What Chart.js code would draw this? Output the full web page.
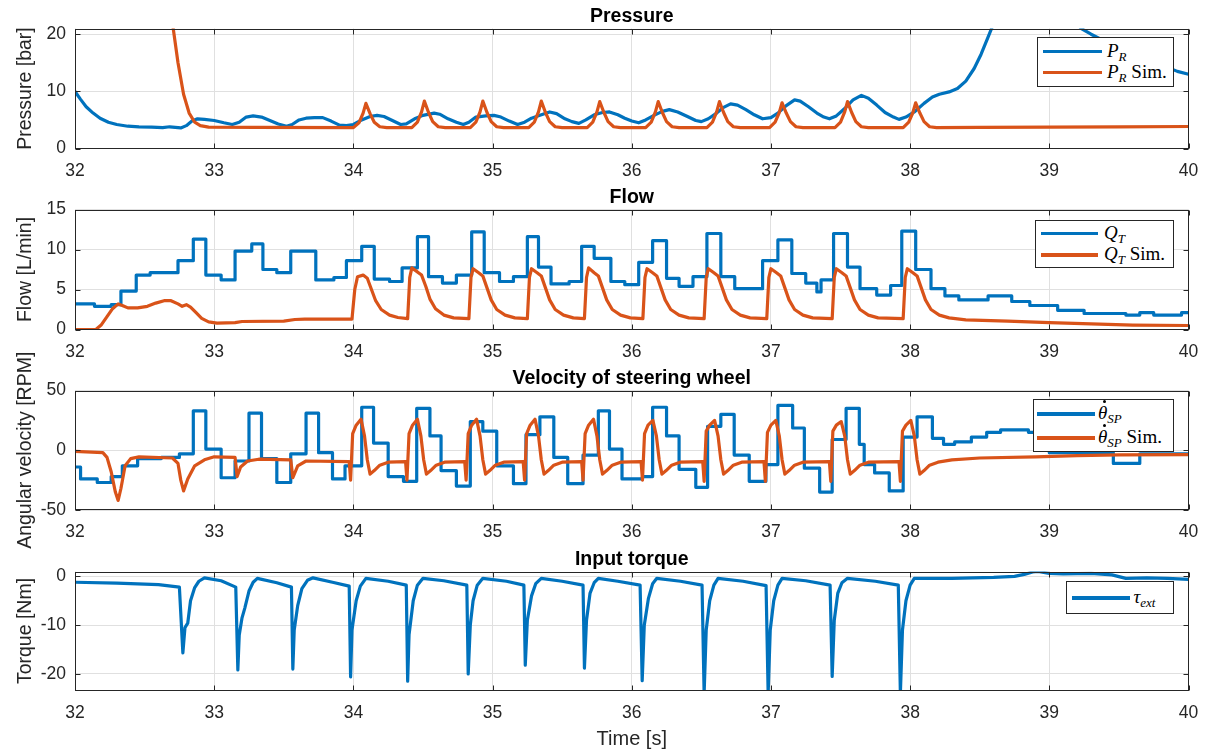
<!DOCTYPE html>
<html><head><meta charset="utf-8">
<script src="https://cdn.jsdelivr.net/npm/chart.js@4.4.1/dist/chart.umd.min.js"></script>
<style>
html,body{margin:0;padding:0;background:#fff;}
#wrap{position:relative;width:1217px;height:756px;overflow:hidden;background:#fff;}
canvas{position:absolute;left:0;top:0;}
.leg{position:absolute;background:#fff;border:1px solid #262626;box-sizing:border-box;z-index:10;}
.ln{position:absolute;height:3.5px;z-index:11;}
.lt{position:absolute;font-family:"Liberation Serif","DejaVu Serif",serif;font-size:19px;line-height:20px;white-space:nowrap;color:#000;z-index:11;}
.lt i{font-style:italic}
.lt sub{font-size:13px;vertical-align:-4px;font-style:italic;line-height:0}
.dt{position:relative;font-style:italic;display:inline-block;line-height:20px}
.dt b{position:absolute;left:5px;top:-3px;width:3px;height:3px;border-radius:50%;background:#000}
</style></head>
<body><div id="wrap">
<canvas id="c1" width="1217" height="756"></canvas>
<canvas id="c2" width="1217" height="756"></canvas>
<canvas id="c3" width="1217" height="756"></canvas>
<canvas id="c4" width="1217" height="756"></canvas>
</div>
<script>
// ---------- tick labels ----------
const timeTicks = [32,33,34,35,36,37,38,39,40];
const pressureTicks = [0,10,20];
const flowTicks = [0,5,10,15];
const velocityTicks = [-50,0,50];
const torqueTicks = [-20,-10,0];

// ---------- series: [time (s), value] ----------
const pressureMeasured = [[32.00,10.0],[32.04,8.6],[32.08,7.3],[32.13,6.2],[32.18,5.3],[32.24,4.6],[32.30,4.2],[32.38,3.9],[32.46,3.8],[32.55,3.75],[32.63,3.65],[32.68,3.8],[32.72,3.7],[32.76,3.6],[32.80,4.0],[32.84,4.8],[32.88,5.2],[32.93,5.1],[33.00,4.9],[33.07,4.5],[33.13,4.2],[33.18,4.6],[33.23,5.5],[33.28,5.7],[33.34,5.5],[33.40,4.9],[33.46,4.3],[33.52,3.9],[33.56,4.2],[33.61,5.0],[33.66,5.3],[33.72,5.4],[33.78,5.4],[33.84,4.8],[33.90,4.1],[33.95,4.0],[34.00,4.2],[34.06,5.0],[34.12,5.6],[34.17,5.8],[34.22,5.6],[34.28,4.9],[34.34,4.2],[34.38,4.3],[34.44,5.2],[34.50,5.8],[34.58,6.2],[34.62,6.0],[34.68,5.2],[34.74,4.6],[34.79,4.2],[34.83,4.6],[34.88,5.5],[34.95,5.7],[35.01,5.8],[35.06,5.5],[35.12,4.8],[35.18,4.2],[35.23,4.6],[35.28,5.3],[35.34,5.8],[35.41,6.4],[35.46,6.1],[35.52,5.2],[35.57,4.7],[35.62,4.4],[35.67,5.0],[35.73,5.9],[35.79,6.3],[35.84,6.4],[35.90,5.9],[35.95,5.3],[36.00,4.8],[36.05,4.5],[36.10,5.0],[36.16,5.8],[36.22,6.5],[36.27,6.8],[36.33,6.4],[36.40,5.6],[36.46,4.9],[36.50,4.7],[36.55,5.2],[36.61,6.2],[36.66,7.2],[36.71,7.8],[36.76,7.6],[36.82,6.8],[36.88,5.9],[36.94,5.2],[37.00,5.4],[37.05,6.2],[37.11,7.5],[37.17,8.5],[37.21,8.3],[37.27,7.3],[37.33,6.2],[37.38,5.5],[37.42,5.2],[37.47,5.7],[37.53,7.0],[37.59,8.5],[37.65,9.3],[37.70,8.8],[37.76,7.6],[37.82,6.3],[37.88,5.5],[37.92,5.1],[37.97,5.5],[38.03,6.4],[38.10,7.9],[38.16,9.0],[38.21,9.5],[38.28,9.9],[38.34,10.5],[38.40,11.8],[38.46,14.0],[38.51,16.5],[38.56,19.5],[38.61,22.5],[38.70,26.0],[38.85,28.0],[39.00,27.0],[39.15,23.0],[39.23,21.0],[39.30,20.0],[39.38,19.0],[39.45,18.0],[39.52,17.2],[39.62,16.2],[39.72,15.4],[39.82,14.5],[39.92,13.5],[40.00,13.0]];
const pressureSim = [[32.60,40],[32.70,22],[32.74,15],[32.78,9.5],[32.82,6.2],[32.86,4.6],[32.90,4.0],[32.96,3.75],[33.30,3.7],[34.00,3.65],[34.04,4.5],[34.07,6.2],[34.09,7.9],[34.12,6.1],[34.15,4.6],[34.19,3.8],[34.24,3.65],[34.42,3.65],[34.46,4.6],[34.49,6.4],[34.51,8.3],[34.54,6.3],[34.57,4.7],[34.61,3.8],[34.66,3.65],[34.84,3.65],[34.88,4.6],[34.91,6.4],[34.93,8.3],[34.96,6.3],[34.99,4.7],[35.03,3.8],[35.08,3.65],[35.26,3.65],[35.30,4.6],[35.33,6.4],[35.35,8.3],[35.38,6.3],[35.41,4.7],[35.45,3.8],[35.50,3.65],[35.68,3.65],[35.72,4.6],[35.75,6.4],[35.77,8.2],[35.80,6.3],[35.83,4.7],[35.87,3.8],[35.92,3.65],[36.10,3.65],[36.14,4.6],[36.17,6.4],[36.19,8.2],[36.22,6.3],[36.25,4.7],[36.29,3.8],[36.34,3.65],[36.54,3.65],[36.58,4.6],[36.61,6.4],[36.63,8.2],[36.66,6.3],[36.69,4.7],[36.73,3.8],[36.78,3.65],[36.99,3.65],[37.03,4.6],[37.06,6.3],[37.08,8.0],[37.11,6.2],[37.14,4.7],[37.18,3.8],[37.23,3.65],[37.46,3.65],[37.50,4.6],[37.53,6.4],[37.55,8.2],[37.58,6.3],[37.61,4.7],[37.65,3.8],[37.70,3.65],[37.95,3.65],[37.99,4.6],[38.02,6.3],[38.04,8.0],[38.07,6.2],[38.10,4.7],[38.14,3.8],[38.19,3.65],[38.50,3.7],[39.00,3.75],[39.50,3.8],[40.00,3.85]];

const flowMeasured = [[32.00,3.2],[32.14,2.9],[32.26,3.1],[32.33,4.8],[32.44,6.8],[32.54,7.1],[32.74,8.6],[32.85,11.3],[32.94,6.8],[33.05,6.2],[33.15,9.8],[33.27,10.7],[33.35,7.5],[33.45,7.1],[33.55,9.8],[33.73,6.2],[33.86,6.5],[33.95,8.6],[34.06,10.4],[34.15,6.3],[34.26,6.0],[34.35,7.7],[34.46,11.6],[34.54,6.6],[34.64,5.8],[34.74,6.8],[34.85,12.2],[34.94,7.1],[35.05,6.0],[35.15,6.6],[35.25,11.6],[35.33,7.8],[35.42,5.7],[35.55,6.0],[35.64,10.4],[35.73,8.9],[35.85,6.0],[35.95,5.6],[36.05,8.4],[36.15,11.1],[36.25,6.4],[36.34,5.4],[36.44,6.6],[36.54,12.0],[36.64,6.6],[36.74,5.1],[36.94,8.6],[37.05,11.2],[37.15,7.0],[37.25,5.8],[37.33,4.7],[37.36,6.2],[37.45,12.0],[37.55,7.8],[37.64,5.1],[37.76,4.3],[37.86,5.5],[37.94,12.3],[38.04,7.5],[38.15,5.1],[38.25,4.2],[38.35,3.7],[38.56,4.2],[38.73,3.5],[38.86,3.0],[39.06,2.4],[39.25,2.0],[39.55,1.8],[39.65,2.1],[39.75,1.8],[39.95,2.1],[40.00,2.1]];
const flowSim = [[32.00,0],[32.15,0],[32.19,0.6],[32.23,1.6],[32.27,2.6],[32.31,3.2],[32.34,3.0],[32.38,2.7],[32.45,2.7],[32.52,2.9],[32.58,3.3],[32.64,3.6],[32.69,3.6],[32.74,3.2],[32.77,2.9],[32.80,3.1],[32.83,2.8],[32.87,2.1],[32.91,1.4],[32.96,0.95],[33.02,0.8],[33.15,0.85],[33.20,1.0],[33.50,1.05],[33.58,1.25],[33.65,1.3],[33.99,1.3],[34.01,5.0],[34.03,6.6],[34.07,6.8],[34.10,6.4],[34.13,5.0],[34.16,3.6],[34.20,2.5],[34.26,1.8],[34.32,1.5],[34.39,1.35],[34.405,6.5],[34.42,7.7],[34.46,7.2],[34.49,6.8],[34.52,5.4],[34.55,3.8],[34.59,2.6],[34.65,1.8],[34.72,1.45],[34.83,1.35],[34.845,6.5],[34.86,7.6],[34.90,7.1],[34.93,6.7],[34.96,5.2],[34.99,3.7],[35.03,2.5],[35.09,1.8],[35.16,1.45],[35.25,1.35],[35.265,6.5],[35.28,7.6],[35.32,7.1],[35.35,6.7],[35.38,5.2],[35.41,3.7],[35.45,2.5],[35.51,1.8],[35.58,1.45],[35.66,1.35],[35.675,6.5],[35.69,7.7],[35.73,7.1],[35.76,6.7],[35.79,5.2],[35.82,3.7],[35.86,2.5],[35.92,1.8],[35.99,1.45],[36.08,1.35],[36.095,6.5],[36.11,7.6],[36.15,7.1],[36.18,6.7],[36.21,5.2],[36.24,3.7],[36.28,2.5],[36.34,1.8],[36.41,1.45],[36.52,1.35],[36.535,6.5],[36.55,7.6],[36.59,7.1],[36.62,6.7],[36.65,5.2],[36.68,3.7],[36.72,2.5],[36.78,1.8],[36.85,1.45],[36.97,1.35],[36.985,6.5],[37.00,7.6],[37.04,7.1],[37.07,6.7],[37.10,5.2],[37.13,3.7],[37.17,2.5],[37.23,1.8],[37.30,1.45],[37.44,1.35],[37.455,6.5],[37.47,7.6],[37.51,7.1],[37.54,6.7],[37.57,5.2],[37.60,3.7],[37.64,2.5],[37.70,1.8],[37.77,1.45],[37.95,1.35],[37.965,6.5],[37.98,7.6],[38.02,7.1],[38.05,6.7],[38.08,5.2],[38.11,3.7],[38.15,2.5],[38.21,1.8],[38.28,1.45],[38.40,1.2],[38.70,1.05],[39.00,0.85],[39.30,0.7],[39.60,0.55],[40.00,0.5]];

const velocityMeasured = [[32.00,-14],[32.04,-24],[32.16,-27],[32.26,-22],[32.34,-13],[32.45,-7],[32.62,-6],[32.75,-3],[32.85,33],[32.94,1],[33.05,-23],[33.15,-9],[33.25,31],[33.34,-7],[33.45,-27],[33.55,-3],[33.66,31],[33.75,-2],[33.85,-24],[33.94,-13],[34.06,36],[34.145,6],[34.25,-22],[34.36,-26],[34.455,35],[34.55,12],[34.63,-17],[34.74,-30],[34.84,24],[34.93,16],[35.03,-13],[35.15,-28],[35.24,13],[35.34,28],[35.44,-6],[35.54,-28],[35.65,-4],[35.76,33],[35.84,1],[35.93,-24],[36.077,-22],[36.15,36],[36.25,12],[36.34,-16],[36.46,-31],[36.545,20],[36.64,30],[36.736,-4],[36.844,-26],[36.964,-12],[37.05,37.5],[37.156,18.6],[37.24,-15],[37.35,-35],[37.44,9],[37.54,35],[37.635,5],[37.67,-12],[37.745,-19],[37.85,-34],[37.95,11],[38.05,28],[38.16,10],[38.24,5],[38.32,7],[38.44,11],[38.55,15],[38.65,17],[38.85,15],[38.95,8],[39.00,-2],[39.46,-11],[39.65,-3],[40.00,-3]];
const velocitySim = [[32.00,-1],[32.20,-2],[32.23,-6],[32.26,-18],[32.29,-35],[32.31,-42],[32.33,-32],[32.36,-13],[32.40,-7],[32.46,-5.5],[32.70,-6.5],[32.74,-11],[32.76,-25],[32.78,-34],[32.81,-24],[32.86,-13],[32.93,-8],[33.00,-5.5],[33.15,-6],[33.165,-22],[33.19,-14],[33.24,-9],[33.32,-7.5],[33.55,-8],[33.565,-23],[33.60,-13],[33.66,-9],[33.97,-9.5],
[33.98,-25],[33.995,14],[34.02,21],[34.055,26],[34.08,12],[34.10,-8],[34.12,-20],[34.15,-17],[34.19,-12.5],[34.25,-10],[34.375,-9.5],
[34.385,-25],[34.40,14],[34.425,21],[34.46,26],[34.485,12],[34.505,-8],[34.525,-20],[34.555,-17],[34.595,-12.5],[34.655,-10],[34.80,-9.5],
[34.81,-25],[34.825,14],[34.85,21],[34.885,26],[34.91,12],[34.93,-8],[34.95,-20],[34.98,-17],[35.02,-12.5],[35.08,-10],[35.22,-9.5],
[35.23,-25],[35.245,14],[35.27,21],[35.305,26],[35.33,12],[35.35,-8],[35.37,-20],[35.40,-17],[35.44,-12.5],[35.50,-10],[35.64,-9.5],
[35.65,-25],[35.665,14],[35.69,21],[35.725,26],[35.75,12],[35.77,-8],[35.79,-20],[35.82,-17],[35.86,-12.5],[35.92,-10],[36.067,-9.5],
[36.077,-25],[36.092,14],[36.117,21],[36.152,25],[36.177,12],[36.197,-8],[36.217,-20],[36.247,-17],[36.287,-12.5],[36.347,-10],[36.51,-9.5],
[36.52,-26],[36.535,16],[36.56,21],[36.595,25],[36.62,12],[36.64,-8],[36.66,-20],[36.69,-17],[36.73,-12.5],[36.79,-10],[36.95,-9.5],
[36.96,-26],[36.975,15],[37.00,21],[37.035,25],[37.06,12],[37.08,-8],[37.10,-20],[37.13,-17],[37.17,-12.5],[37.23,-10],[37.42,-9.5],
[37.43,-26],[37.445,16],[37.47,21],[37.505,24],[37.53,12],[37.55,-8],[37.57,-20],[37.60,-17],[37.64,-12.5],[37.70,-10],[37.92,-9.5],
[37.93,-26],[37.945,16],[37.97,21],[38.005,25],[38.03,12],[38.05,-8],[38.07,-20],[38.10,-17],[38.14,-12.5],[38.20,-10],[38.30,-8],[38.50,-6.5],[38.90,-5.5],[39.20,-4.5],[39.50,-3.8],[40.00,-3.7]];

const torqueMeasured = [[32.00,-1.2],[32.30,-1.4],[32.60,-1.7],[32.75,-2.2],[32.775,-15.7],[32.79,-10.5],[32.81,-9.6],[32.83,-5.0],[32.86,-2.3],[32.89,-1.0],[32.93,-0.3],[33.05,-0.9],[33.155,-2.2],[33.17,-19.2],[33.18,-12],[33.20,-8.5],[33.22,-6.5],[33.25,-3.0],[33.28,-1.2],[33.31,-0.4],[33.45,-1.3],[33.555,-2.2],[33.565,-19],[33.575,-11],[33.60,-6],[33.63,-2.5],[33.67,-0.8],[33.71,-0.3],[33.85,-1.2],[33.97,-2.0],[33.98,-20.6],[33.99,-11],[34.02,-5],[34.05,-2],[34.09,-0.4],[34.25,-1.0],[34.38,-1.8],[34.39,-21.5],[34.40,-12],[34.43,-5],[34.46,-1.8],[34.50,-0.4],[34.65,-0.9],[34.815,-1.8],[34.825,-20],[34.84,-10],[34.86,-5],[34.89,-1.8],[34.93,-0.4],[35.10,-1.0],[35.225,-1.8],[35.235,-18.2],[35.25,-9],[35.28,-4],[35.31,-1.5],[35.35,-0.4],[35.50,-1.0],[35.65,-1.8],[35.66,-18.8],[35.675,-9],[35.70,-3.5],[35.73,-1.3],[35.76,-0.4],[35.90,-1.0],[36.06,-1.8],[36.075,-21.4],[36.09,-10],[36.12,-4.5],[36.15,-1.5],[36.18,-0.4],[36.35,-1.0],[36.505,-1.8],[36.52,-24],[36.535,-11],[36.56,-5],[36.59,-1.8],[36.62,-0.4],[36.80,-1.0],[36.965,-1.9],[36.98,-24],[36.995,-11],[37.02,-5],[37.05,-1.8],[37.08,-0.4],[37.25,-0.9],[37.425,-1.8],[37.44,-20.5],[37.455,-9],[37.48,-3.5],[37.51,-1.3],[37.55,-0.4],[37.75,-1.0],[37.915,-1.8],[37.93,-24],[37.945,-11],[37.97,-5],[38.00,-1.8],[38.03,-0.4],[38.30,-0.4],[38.60,-0.2],[38.75,0],[38.82,0.4],[38.88,0.9],[38.92,1.0],[39.00,0.6],[39.10,0.5],[39.30,0.6],[39.45,0.3],[39.55,-0.4],[39.70,-0.3],[39.85,-0.4],[40.00,-0.6]];

// ---------- styling ----------
const BLUE = '#0072BD', ORANGE = '#D95319';
const TXT = '#262626', GRID = '#e0e0e0';
const FONT = '"Liberation Sans", Arial, Helvetica, sans-serif';

const framePlugin = {
  id: 'frame',
  afterDraw(chart, args, opts) {
    const {ctx, chartArea: a, scales} = chart;
    ctx.save();
    ctx.strokeStyle = TXT; ctx.lineWidth = 1;
    const L = Math.round(a.left) + 0.5, R = Math.round(a.right) - 0.5;
    const T = Math.round(a.top) + 0.5, B = Math.round(a.bottom) - 0.5;
    ctx.beginPath();
    scales.x.ticks.forEach(t => {
      const p = Math.round(scales.x.getPixelForValue(t.value)) + 0.5;
      ctx.moveTo(p, B); ctx.lineTo(p, B - 5);
      ctx.moveTo(p, T); ctx.lineTo(p, T + 5);
    });
    scales.y.ticks.forEach(t => {
      const p = Math.round(scales.y.getPixelForValue(t.value)) + 0.5;
      ctx.moveTo(L, p); ctx.lineTo(L + 5, p);
      ctx.moveTo(R, p); ctx.lineTo(R - 5, p);
    });
    ctx.stroke();
    ctx.strokeRect(L, T, R - L, B - T);
    ctx.fillStyle = '#000';
    ctx.font = 'bold 19.5px ' + FONT;
    ctx.textAlign = 'center'; ctx.textBaseline = 'alphabetic';
    ctx.fillText(opts.title, (a.left + a.right) / 2, a.top - 7);
    ctx.restore();
  }
};

function toPoints(arr) { return arr.map(p => ({x: p[0], y: p[1]})); }

function build(id, cfg) {
  const datasets = cfg.sets.map((s, i) => ({
    data: toPoints(s.data), borderColor: s.color, backgroundColor: s.color,
    borderWidth: 3.2, pointRadius: 0, tension: 0, fill: false,
    stepped: s.step ? 'before' : false, order: s.order,
    borderJoinStyle: 'round', borderCapStyle: 'round'
  }));
  new Chart(document.getElementById(id), {
    type: 'line',
    data: {datasets},
    options: {
      responsive: false, animation: false, devicePixelRatio: 1, events: [],
      layout: {padding: {top: cfg.top, right: 28.5, bottom: 756 - cfg.bottom - cfg.xh, left: 0}},
      plugins: {legend: {display: false}, tooltip: {enabled: false}, frame: {title: cfg.title}},
      scales: {
        x: {
          type: 'linear', min: 32, max: 40,
          afterBuildTicks: s => { s.ticks = timeTicks.map(v => ({value: v})); },
          afterFit: s => { s.height = cfg.xh; },
          grid: {color: GRID, drawTicks: false, lineWidth: 1},
          border: {display: false},
          ticks: {color: TXT, font: {family: FONT, size: 17.5}, padding: 12, maxRotation: 0, autoSkip: false},
          title: cfg.xlabel ? {display: true, text: cfg.xlabel, color: TXT, font: {family: FONT, size: 20}, padding: {top: 0, bottom: 5}} : {display: false}
        },
        y: {
          type: 'linear', min: cfg.ymin, max: cfg.ymax,
          afterBuildTicks: s => { s.ticks = cfg.yticks.map(v => ({value: v})); },
          afterFit: s => { s.width = 75; },
          grid: {color: GRID, drawTicks: false, lineWidth: 1},
          border: {display: false},
          ticks: {color: TXT, font: {family: FONT, size: 17.5}, padding: 9, autoSkip: false},
          title: {display: true, text: cfg.ylabel, color: TXT, font: {family: FONT, size: 19.5}, padding: {top: 14, bottom: 0}}
        }
      }
    },
    plugins: [framePlugin]
  });
}

build('c1', {title: 'Pressure', ylabel: 'Pressure [bar]', top: 28.5, bottom: 148.5, xh: 30, ymin: 0, ymax: 21, yticks: pressureTicks,
  sets: [{data: pressureMeasured, color: BLUE, order: 2}, {data: pressureSim, color: ORANGE, order: 1}]});
build('c2', {title: 'Flow', ylabel: 'Flow [L/min]', top: 209.5, bottom: 329.5, xh: 30, ymin: 0, ymax: 15, yticks: flowTicks,
  sets: [{data: flowMeasured, color: BLUE, order: 2, step: true}, {data: flowSim, color: ORANGE, order: 1}]});
build('c3', {title: 'Velocity of steering wheel', ylabel: 'Angular velocity [RPM]', top: 390.5, bottom: 510, xh: 30, ymin: -50, ymax: 50, yticks: velocityTicks,
  sets: [{data: velocityMeasured, color: BLUE, order: 2, step: true}, {data: velocitySim, color: ORANGE, order: 1}]});
build('c4', {title: 'Input torque', ylabel: 'Torque [Nm]', xlabel: 'Time [s]', top: 571.5, bottom: 690.5, xh: 65.5, ymin: -23.4, ymax: 1, yticks: torqueTicks,
  sets: [{data: torqueMeasured, color: BLUE, order: 1}]});

// ---------- legends (HTML text) ----------
const wrap = document.getElementById('wrap');
function legend(box, line, textX, rows) {
  const b = document.createElement('div');
  b.className = 'leg';
  Object.assign(b.style, {left: box[0] + 'px', top: box[1] + 'px', width: (box[2] - box[0]) + 'px', height: (box[3] - box[1]) + 'px'});
  wrap.appendChild(b);
  rows.forEach(r => {
    const l = document.createElement('div');
    l.className = 'ln';
    Object.assign(l.style, {left: line[0] + 'px', width: (line[1] - line[0]) + 'px', top: (r.y - 1.75) + 'px', background: r.color});
    wrap.appendChild(l);
    const t = document.createElement('div');
    t.className = 'lt';
    t.innerHTML = r.html;
    Object.assign(t.style, {left: textX + 'px', top: (r.y - 11) + 'px'});
    wrap.appendChild(t);
  });
}
legend([1037, 37, 1174, 87], [1043, 1102], 1107, [
  {y: 51.5, color: BLUE, html: '<i>P</i><sub>R</sub>'},
  {y: 72.5, color: ORANGE, html: '<i>P</i><sub>R</sub> Sim.'}]);
legend([1035, 220, 1174, 268], [1041, 1098], 1104, [
  {y: 233.5, color: BLUE, html: '<i>Q</i><sub>T</sub>'},
  {y: 255, color: ORANGE, html: '<i>Q</i><sub>T</sub> Sim.'}]);
legend([1032.5, 399, 1174, 452], [1036.5, 1095], 1098, [
  {y: 414, color: BLUE, html: '<span class="dt">θ<b></b></span><sub>SP</sub>'},
  {y: 438, color: ORANGE, html: '<span class="dt">θ<b></b></span><sub>SP</sub> Sim.'}]);
legend([1065.5, 581, 1174, 614], [1072, 1129.5], 1133.5, [
  {y: 598, color: BLUE, html: '<i>τ</i><sub>ext</sub>'}]);
</script>
</body></html>
